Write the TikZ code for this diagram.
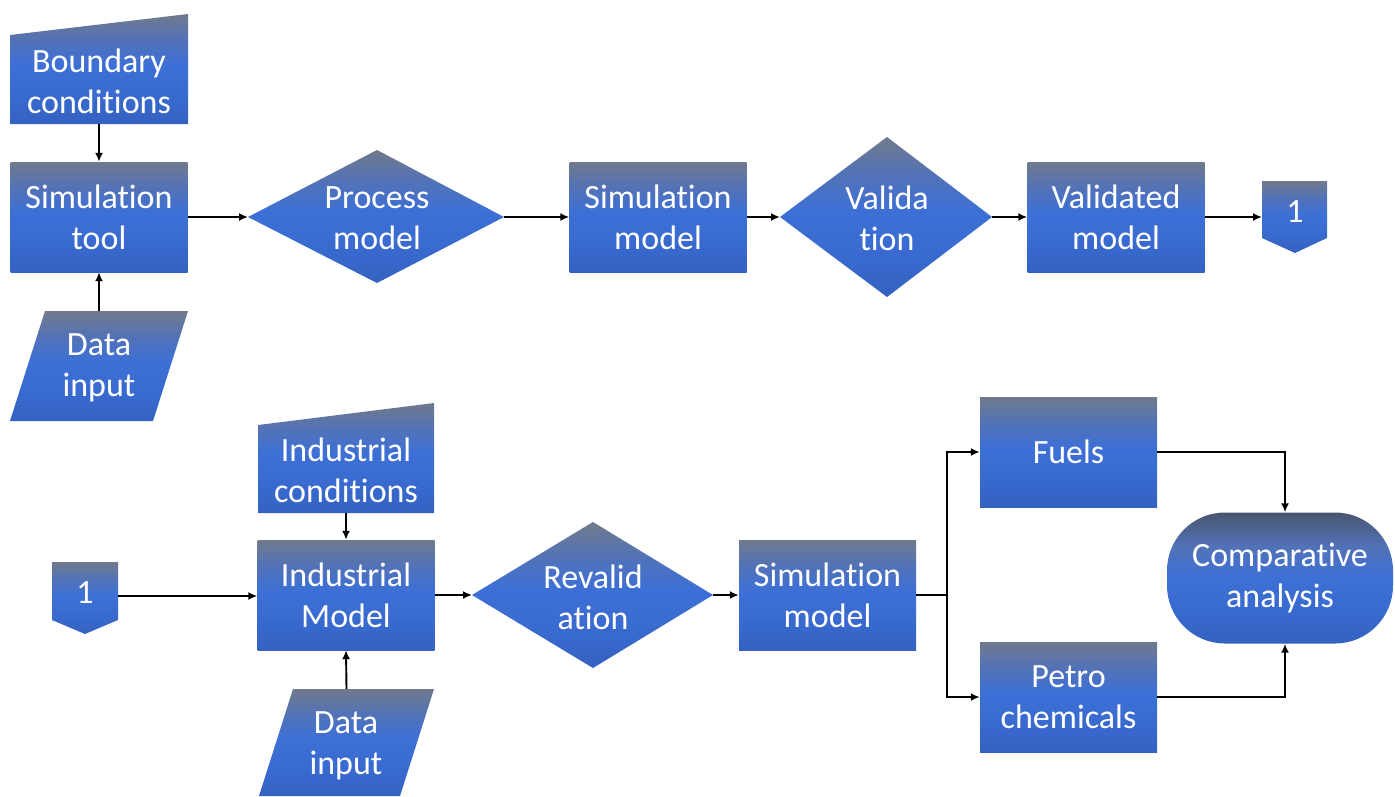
\documentclass[tikz,border=0pt]{standalone}
\usepackage{fontspec}
\setmainfont{Carlito}[Ligatures=NoCommon]
\usetikzlibrary{arrows.meta}
\definecolor{gtop}{HTML}{707A8C}
\definecolor{gup}{HTML}{5272B8}
\definecolor{gmid}{HTML}{3D70D6}
\definecolor{glow}{HTML}{396BD0}
\definecolor{gbot}{HTML}{3462C2}
\definecolor{ttop}{HTML}{4A5670}
\pgfdeclareverticalshading{flow}{100bp}{color(0bp)=(gbot); color(25bp)=(gbot); color(40bp)=(glow); color(52bp)=(gmid); color(63bp)=(gup); color(75bp)=(gtop); color(100bp)=(gtop)}
\pgfdeclareverticalshading{term}{100bp}{color(0bp)=(gbot); color(25bp)=(gbot); color(40bp)=(glow); color(50bp)=(gmid); color(62bp)=(gup); color(75bp)=(ttop); color(100bp)=(ttop)}
\begin{document}
\begin{tikzpicture}[x=1pt,y=-1pt,
  grad/.style={shading=flow},
  txt/.style={text=white, font=\fontsize{34}{41}\selectfont, align=center, inner sep=0pt},
  box/.style={grad, txt, rectangle, minimum width=177pt, minimum height=110pt},
  area/.style={inner sep=0pt, outer sep=0pt, rectangle},
  arr/.style={-{Latex[length=9pt,width=8pt]}, line width=1.9pt, black},
  ln/.style={line width=1.9pt, black},
  ]
\useasboundingbox (0,0) rectangle (1395,796);

% ---------- top row ----------
\shade[grad] (10,35) -- (188,14) -- (188,124) -- (10,124) -- cycle;
\node[area, minimum width=178pt, minimum height=110pt] (bc) at (99,69) {};
\node[txt] (bct) at (99,81) {Boundary\\conditions};

\node[box] (st) at (99,217) {Simulation\\tool};

\shade[grad] (45,311) -- (188,311) -- (153,421) -- (10,421) -- cycle;
\node[area, minimum width=178pt, minimum height=110pt] (di1) at (99,366) {};
\node[txt] (di1t) at (99,368) {Data\\input};

\shade[grad] (248,217) -- (377,150) -- (504,217) -- (377,283) -- cycle;
\node[area, minimum width=256pt, minimum height=133pt] (pm) at (376,217) {};
\node[txt] (pmt) at (377,218) {Process\\model};

\node[box] (sm1) at (658,217) {Simulation\\model};

\shade[grad] (780,217) -- (887,137) -- (992,217) -- (887,297) -- cycle;
\node[area, minimum width=212pt, minimum height=160pt] (va) at (886,217) {};
\node[txt] (vat) at (887,218) {Valida\\tion};

\node[box] (vm) at (1116,217) {Validated\\model};

\shade[grad] (1262,181) -- (1327,181) -- (1327,238) -- (1295,253) -- (1262,238) -- cycle;
\node[area, minimum width=65pt, minimum height=72pt] (op1) at (1294.5,217) {};
\node[txt] (op1t) at (1295,212) {1};

\draw[arr] (bc.south) -- (st.north);
\draw[arr] (di1.north) -- (st.south);
\draw[arr] (st.east) -- (pm.west);
\draw[arr] (pm.east) -- (sm1.west);
\draw[arr] (sm1.east) -- (va.west);
\draw[arr] (va.east) -- (vm.west);
\draw[arr] (vm.east) -- (op1.west);

% ---------- bottom row ----------
\shade[grad] (52,562) -- (118,562) -- (118,620) -- (85,634) -- (52,620) -- cycle;
\node[area, minimum width=66pt, minimum height=72pt] (op2) at (85,596) {};
\node[txt] (op2t) at (85,593) {1};

\shade[grad] (258,425) -- (434,403) -- (434,513) -- (258,513) -- cycle;
\node[area, minimum width=176pt, minimum height=110pt] (ic) at (346,458) {};
\node[txt] (ict) at (346,470) {Industrial\\conditions};

\node[box] (im) at (346,595) {Industrial\\Model};

\shade[grad] (293,689) -- (434,689) -- (400,796) -- (259,796) -- cycle;
\node[area, minimum width=175pt, minimum height=107pt] (di2) at (346.5,742.5) {};
\node[txt] (di2t) at (346,746) {Data\\input};

\shade[grad] (472,595) -- (593,522) -- (713,595) -- (593,668) -- cycle;
\node[area, minimum width=241pt, minimum height=146pt] (rv) at (592.5,595) {};
\node[txt] (rvt) at (593,597) {Revalid\\ation};

\node[box] (sm2) at (827.5,595) {Simulation\\model};

\node[box] (fu) at (1068.5,452) {Fuels};
\node[box] (pc) at (1068.5,697) {Petro\\chemicals};

\node[shading=term, txt, rectangle, rounded corners=58pt, minimum width=226pt, minimum height=131pt] (ca) at (1280,578) {Comparative\\analysis};

\coordinate (br) at (947,595);

\draw[arr] (op2.east) -- (op2.east -| im.west);
\draw[arr] (ic.south) -- (im.north);
\draw[arr] (di2.north) -- (im.south);
\draw[arr] (im.east) -- (rv.west);
\draw[arr] (rv.east) -- (sm2.west);
\draw[ln] (sm2.east) -- (br);
\draw[arr] (br) |- (fu.west);
\draw[arr] (br) |- (pc.west);
\draw[arr] (fu.east) -| ([xshift=5pt]ca.north);
\draw[arr] (pc.east) -| ([xshift=5pt]ca.south);
\end{tikzpicture}
\end{document}
